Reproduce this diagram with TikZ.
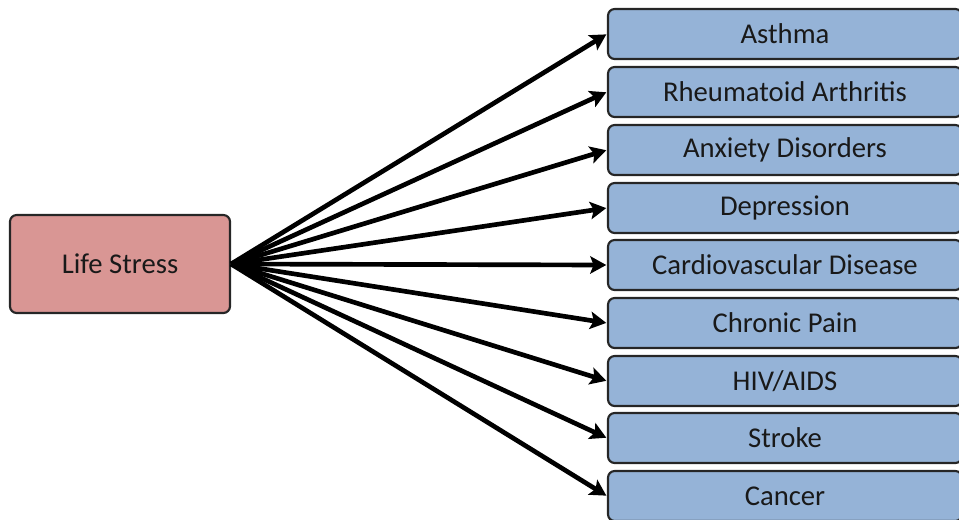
\documentclass[tikz,border=0pt]{standalone}
\usepackage{fontspec}
\setmainfont{Carlito}
\usetikzlibrary{arrows.meta}
\definecolor{pinkfill}{HTML}{D99694}
\definecolor{bluefill}{HTML}{95B3D7}
\tikzset{
  srcbox/.style={draw=black!85, line width=1.6pt, fill=pinkfill, rounded corners=5pt, minimum width=165pt, minimum height=73.5pt, inner sep=0pt, font=\fontsize{21.5}{24}\selectfont, text=black!90},
  tgtbox/.style={draw=black!85, line width=1.6pt, fill=bluefill, rounded corners=5pt, minimum width=265.5pt, minimum height=37.5pt, inner sep=0pt, font=\fontsize{21.5}{24}\selectfont, text=black!90},
  conn/.style={line width=3.5pt, -{Stealth[length=12pt, width=13pt, inset=2.5pt]}, shorten >=0.5pt}
}
\begin{document}
\begin{tikzpicture}[x=0.75pt, y=-0.75pt]
\useasboundingbox (0,0) rectangle (959,519);
\clip (0,0) rectangle (959,519);
\node[srcbox] (ls) at (120,264) {Life Stress};
\node[tgtbox] (b1) at (785,34) {Asthma};
\node[tgtbox] (b2) at (785,92) {Rheumatoid Arthritis};
\node[tgtbox] (b3) at (785,150) {Anxiety Disorders};
\node[tgtbox] (b4) at (785,208) {Depression};
\node[tgtbox] (b5) at (785,265) {Cardiovascular Disease};
\node[tgtbox] (b6) at (785,323) {Chronic Pain};
\node[tgtbox] (b7) at (785,381) {HIV/AIDS};
\node[tgtbox] (b8) at (785,438) {Stroke};
\node[tgtbox] (b9) at (785,496) {Cancer};
\foreach \b in {b1,b2,b3,b4,b5,b6,b7,b8,b9}
  \draw[conn] (ls.east) -- (\b.west);
\end{tikzpicture}
\end{document}
